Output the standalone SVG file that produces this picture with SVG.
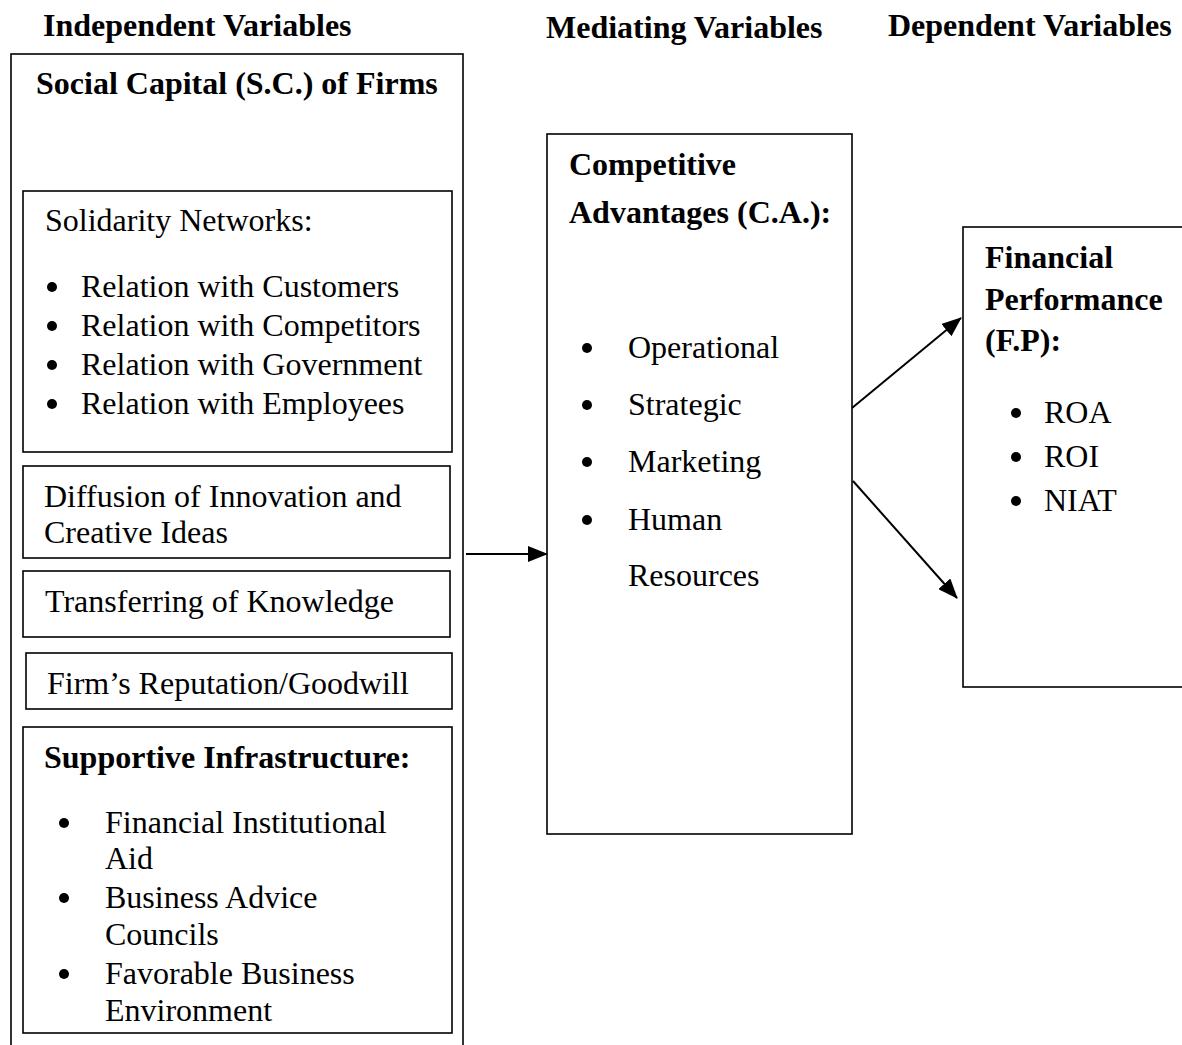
<svg xmlns="http://www.w3.org/2000/svg" width="1182" height="1045" viewBox="0 0 1182 1045">
<style>
  text { font-family: "Liberation Serif", "Times New Roman", serif; font-size: 32px; fill: #000; }
  .b { font-weight: bold; }
  .box { fill: none; stroke: #000; stroke-width: 1.6; }
  .conn { stroke: #000; stroke-width: 2; fill: none; }
  .dot { fill: #000; }
</style>
<defs>
  <marker id="arrow" viewBox="0 0 20 16" refX="19" refY="8" markerWidth="20" markerHeight="16" markerUnits="userSpaceOnUse" orient="auto">
    <path d="M0,0 L20,8 L0,16 Z" fill="#000"/>
  </marker>
</defs>
<rect width="1182" height="1045" fill="#fff"/>

<g id="headers">
  <text class="b" x="43" y="36">Independent Variables</text>
  <text class="b" x="546" y="38">Mediating Variables</text>
  <text class="b" x="888" y="36">Dependent Variables</text>
</g>

<g id="social-capital">
  <rect class="box" x="11" y="54" width="452" height="1010"/>
  <text class="b" x="36" y="94">Social Capital (S.C.) of Firms</text>
</g>

<g id="solidarity-networks">
  <rect class="box" x="23" y="191" width="429" height="261"/>
  <text x="45" y="231">Solidarity Networks:</text>
  <circle class="dot" cx="52" cy="287" r="5"/>
  <text x="81" y="297">Relation with Customers</text>
  <circle class="dot" cx="52" cy="326" r="5"/>
  <text x="81" y="336">Relation with Competitors</text>
  <circle class="dot" cx="52" cy="365" r="5"/>
  <text x="81" y="375">Relation with Government</text>
  <circle class="dot" cx="52" cy="404" r="5"/>
  <text x="81" y="414">Relation with Employees</text>
</g>

<g id="diffusion">
  <rect class="box" x="23" y="466" width="427" height="92"/>
  <text x="44" y="507">Diffusion of Innovation and</text>
  <text x="44" y="543">Creative Ideas</text>
</g>

<g id="transferring">
  <rect class="box" x="23" y="571" width="427" height="66"/>
  <text x="45" y="612">Transferring of Knowledge</text>
</g>

<g id="reputation">
  <rect class="box" x="26" y="653" width="426" height="56"/>
  <text x="47" y="694">Firm’s Reputation/Goodwill</text>
</g>

<g id="supportive-infrastructure">
  <rect class="box" x="23" y="727" width="429" height="306"/>
  <text class="b" x="44" y="768">Supportive Infrastructure:</text>
  <circle class="dot" cx="64" cy="823" r="5"/>
  <text x="105" y="833">Financial Institutional</text>
  <text x="105" y="869">Aid</text>
  <circle class="dot" cx="64" cy="898" r="5"/>
  <text x="105" y="908">Business Advice</text>
  <text x="105" y="945">Councils</text>
  <circle class="dot" cx="64" cy="974" r="5"/>
  <text x="105" y="984">Favorable Business</text>
  <text x="105" y="1021">Environment</text>
</g>

<g id="competitive-advantages">
  <rect class="box" x="547" y="134" width="305" height="700"/>
  <text class="b" x="569" y="175">Competitive</text>
  <text class="b" x="569" y="223">Advantages (C.A.):</text>
  <circle class="dot" cx="587" cy="348" r="5"/>
  <text x="628" y="358">Operational</text>
  <circle class="dot" cx="587" cy="405" r="5"/>
  <text x="628" y="415">Strategic</text>
  <circle class="dot" cx="587" cy="462" r="5"/>
  <text x="628" y="472">Marketing</text>
  <circle class="dot" cx="587" cy="520" r="5"/>
  <text x="628" y="530">Human</text>
  <text x="628" y="586">Resources</text>
</g>

<g id="financial-performance">
  <rect class="box" x="963" y="227" width="240" height="460"/>
  <text class="b" x="985" y="268">Financial</text>
  <text class="b" x="985" y="310">Performance</text>
  <text class="b" x="985" y="351">(F.P):</text>
  <circle class="dot" cx="1016" cy="413" r="5"/>
  <text x="1044" y="423">ROA</text>
  <circle class="dot" cx="1016" cy="457" r="5"/>
  <text x="1044" y="467">ROI</text>
  <circle class="dot" cx="1016" cy="501" r="5"/>
  <text x="1044" y="511">NIAT</text>
</g>

<g id="connectors">
  <line class="conn" x1="466" y1="554" x2="547" y2="554" marker-end="url(#arrow)"/>
  <line class="conn" x1="852" y1="408" x2="961" y2="318" marker-end="url(#arrow)"/>
  <line class="conn" x1="853" y1="481" x2="957" y2="598" marker-end="url(#arrow)"/>
</g>
</svg>
